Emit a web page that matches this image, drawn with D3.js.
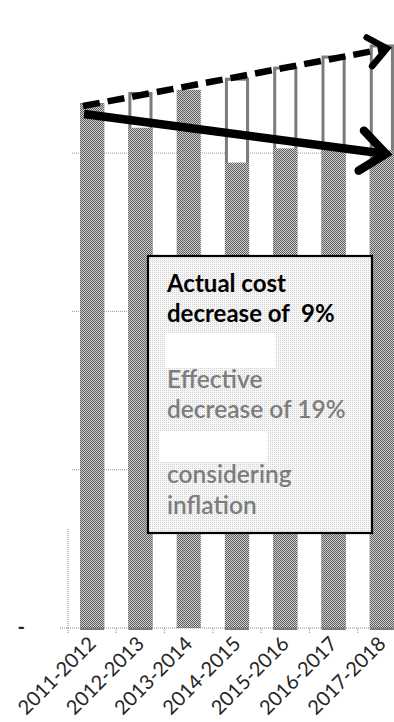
<!DOCTYPE html>
<html>
<head>
<meta charset="utf-8">
<script src="https://cdn.jsdelivr.net/npm/d3@7/dist/d3.min.js"></script>
<style>
  html, body { margin: 0; padding: 0; background: #fff; }
  svg { display: block; }
</style>
</head>
<body>
<svg id="chart" width="394" height="722"></svg>
<script>
// Cost per year: actual spend and the same spend restated for inflation
const categories = ["2011-2012", "2012-2013", "2013-2014", "2014-2015", "2015-2016", "2016-2017", "2017-2018"];
const actualCost = [331, 316, 340, 294, 303, 304, 302];
const adjustedCost = [331, 338, null, 347, 354, 361, 368];
const yTicks = [0, 100, 200, 300];
const yTickLabels = ["-", "", "", ""];
const noteLinesBold = ["Actual cost", "decrease of  9%"];
const noteLinesGray = ["Effective", "decrease of 19%", "considering", "inflation"];

const svg = d3.select("#chart");
const W = 394, H = 722;
const FONT = "Lato, 'Open Sans', sans-serif";

const defs = svg.append("defs");
// checkered fill for the actual-cost bars
const hatch = defs.append("pattern").attr("id", "checker")
  .attr("width", 2).attr("height", 2).attr("patternUnits", "userSpaceOnUse");
hatch.append("rect").attr("width", 2).attr("height", 2).attr("fill", "#cfcfcf");
hatch.append("rect").attr("width", 1).attr("height", 1).attr("fill", "#5e5e5e");
hatch.append("rect").attr("x", 1).attr("y", 1).attr("width", 1).attr("height", 1).attr("fill", "#5e5e5e");
// light dotted fill for the note box
const dots = defs.append("pattern").attr("id", "dots")
  .attr("width", 2).attr("height", 2).attr("patternUnits", "userSpaceOnUse");
dots.append("rect").attr("width", 2).attr("height", 2).attr("fill", "#f6f6f6");
dots.append("rect").attr("width", 1).attr("height", 1).attr("fill", "#d4d4d4");

const x = d3.scaleBand().domain(categories).range([68, 406])
  .paddingInner(0.5).paddingOuter(0.25);
const y = d3.scaleLinear().domain([0, 400]).range([628, 628 - 400 * 1.583]);
const step = x.step();

// gridlines
svg.append("g").selectAll("line").data(yTicks.filter(d => d > 0)).join("line")
  .attr("x1", 72).attr("x2", W)
  .attr("y1", d => y(d)).attr("y2", d => y(d))
  .attr("stroke", "#9a9a9a").attr("stroke-width", 1).attr("stroke-dasharray", "1,1");

// y tick labels
svg.append("g").selectAll("text").data(yTicks).join("text")
  .attr("x", 25).attr("y", d => y(d))
  .attr("dy", "0.32em").attr("text-anchor", "end")
  .attr("font-family", FONT).attr("font-size", 20).attr("font-weight", 700).attr("fill", "#222")
  .text((d, i) => yTickLabels[i]);

// inflation-adjusted bars (outlined, behind)
svg.append("g").selectAll("rect")
  .data(categories.map((c, i) => ({ c, v: adjustedCost[i] })).filter(d => d.v != null))
  .join("rect")
  .attr("x", d => x(d.c) + 1.5).attr("width", x.bandwidth() - 3)
  .attr("y", d => y(d.v) + 0.5).attr("height", d => y(0) - y(d.v))
  .attr("fill", "#fff").attr("stroke", "#7c7c7c").attr("stroke-width", 3);

// actual cost bars
svg.append("g").selectAll("rect")
  .data(categories.map((c, i) => ({ c, v: actualCost[i] })))
  .join("rect")
  .attr("x", d => x(d.c)).attr("width", x.bandwidth())
  .attr("y", d => y(d.v)).attr("height", d => y(0) - y(d.v))
  .attr("fill", "url(#checker)");

// axes
const axisStubTop = 63;
svg.append("line").attr("x1", 68).attr("x2", 68).attr("y1", y(0)).attr("y2", y(axisStubTop))
  .attr("stroke", "#888").attr("stroke-dasharray", "1,1");
svg.append("line").attr("x1", 60).attr("x2", W).attr("y1", y(0)).attr("y2", y(0))
  .attr("stroke", "#888").attr("stroke-dasharray", "1,1");
svg.append("g").selectAll("line").data(categories).join("line")
  .attr("x1", d => x(d) - step * 0.25).attr("x2", d => x(d) - step * 0.25)
  .attr("y1", y(0)).attr("y2", y(0) + 6)
  .attr("stroke", "#888").attr("stroke-dasharray", "1,1");

// category labels
svg.append("g").selectAll("text").data(categories).join("text")
  .attr("transform", d => `translate(${x(d) + x.bandwidth() / 2 + 5},${y(0) + 17}) rotate(-45)`)
  .attr("text-anchor", "end")
  .attr("font-family", FONT).attr("font-size", 20).attr("fill", "#262626")
  .text(d => d);

// trend arrows
function arrow(x1, y1, x2, y2, width, headLen, dash) {
  const g = svg.append("g").attr("stroke", "#000").attr("fill", "none");
  const ang = Math.atan2(y2 - y1, x2 - x1);
  g.append("line").attr("x1", x1).attr("y1", y1)
    .attr("x2", x2 - Math.cos(ang) * width * 0.6).attr("y2", y2 - Math.sin(ang) * width * 0.6)
    .attr("stroke-width", width).attr("stroke-dasharray", dash || null);
  const a = Math.PI / 4.6;
  const p = [
    [x2 - headLen * Math.cos(ang - a), y2 - headLen * Math.sin(ang - a)],
    [x2, y2],
    [x2 - headLen * Math.cos(ang + a), y2 - headLen * Math.sin(ang + a)]
  ];
  g.append("path").attr("d", d3.line()(p))
    .attr("stroke-width", width).attr("stroke-linecap", "round").attr("stroke-linejoin", "miter");
}
const first = categories[0], last = categories[categories.length - 1];
arrow(x(first) + 3, y(adjustedCost[0]) + 2, x(last) + x.bandwidth() - 7, y(adjustedCost[6]) + 3, 6.5, 23, "17,8");
arrow(x(first) + 4, y(actualCost[0]) + 10, x(last) + x.bandwidth() - 8, y(actualCost[6]) + 4, 8.5, 32);

// note box
const box = svg.append("g");
box.append("rect").attr("x", 148).attr("y", 256).attr("width", 224).attr("height", 277)
  .attr("fill", "url(#dots)").attr("stroke", "#000").attr("stroke-width", 2.2);
box.append("rect").attr("x", 165).attr("y", 333).attr("width", 110).attr("height", 35).attr("fill", "#fff");
box.append("rect").attr("x", 159).attr("y", 431).attr("width", 108).attr("height", 31).attr("fill", "#fff");
box.selectAll("text.b").data(noteLinesBold).join("text").attr("class", "b")
  .attr("x", 167).attr("y", (d, i) => 292 + i * 30)
  .attr("font-family", FONT).attr("font-size", 24).attr("font-weight", 700).attr("fill", "#000")
  .style("white-space", "pre")
  .text(d => d);
box.selectAll("text.g").data(noteLinesGray).join("text").attr("class", "g")
  .attr("x", 167).attr("y", (d, i) => [388, 418, 483, 514][i])
  .attr("font-family", FONT).attr("font-size", 24.5).attr("font-weight", 600).attr("fill", "#7d7d7d")
  .text(d => d);
</script>
</body>
</html>
